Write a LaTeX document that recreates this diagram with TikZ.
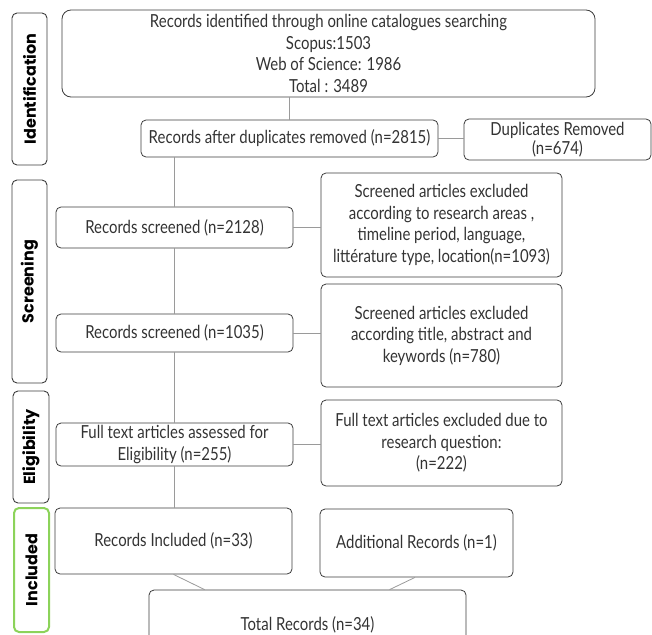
\documentclass[tikz,border=0pt]{standalone}
\usepackage{fontspec}
\setmainfont{Lato}[FakeStretch=0.83]
\newfontfamily\phasefont{Poppins}
\definecolor{boxgray}{HTML}{3C3C3C}
\definecolor{linegray}{HTML}{9A9A9A}
\definecolor{txtgray}{HTML}{333333}
\definecolor{incgreen}{HTML}{8CD35A}
\tikzset{
  box/.style={draw=boxgray, line width=0.8pt, rounded corners=5pt, align=center,
    inner sep=1pt, text=txtgray, font=\fontsize{18}{21.5}\selectfont},
  phase/.style={draw=boxgray, line width=0.9pt, rounded corners=5pt, rotate=90,
    inner sep=0pt, text=black, font=\phasefont\bfseries\fontsize{16}{18}\selectfont},
  conn/.style={draw=linegray, line width=0.8pt}
}
\begin{document}
\begin{tikzpicture}[x=1pt,y=-1pt]
\useasboundingbox (0,0) rectangle (652,634);
\clip (0,0) rectangle (652,634);
% phase labels
\node[phase, minimum width=152pt, minimum height=35pt] (pid) at (29.5,89) {Identification};
\node[phase, minimum width=203pt, minimum height=35pt] (pscr) at (29.5,281.5) {Screening};
\node[phase, minimum width=112pt, minimum height=36pt] (peli) at (31,447) {Eligibility};
\node[phase, draw=incgreen, line width=2pt, minimum width=124pt, minimum height=35pt] (pinc) at (31.5,570) {Included};
% boxes
\node[box, rounded corners=9pt, minimum width=533pt, minimum height=87pt] (top) at (328.5,53.5)
  {Records identified through online catalogues searching\\Scopus:1503\\Web of Science: 1986\\Total : 3489};
\node[box, minimum width=297pt, minimum height=37pt] (dup) at (289.5,138.5) {Records after duplicates removed (n=2815)};
\node[box, minimum width=187pt, minimum height=41pt, font=\fontsize{18}{19.5}\selectfont] (duprem) at (557.5,139.5) {Duplicates Removed\\(n=674)};
\node[box, minimum width=237pt, minimum height=41pt] (s1) at (174.5,227.5) {Records screened (n=2128)};
\node[box, minimum width=241pt, minimum height=104pt] (ex1) at (441.5,225)
  {Screened articles excluded\\according to research areas ,\\timeline period, language,\\littérature type, location(n=1093)};
\node[box, minimum width=237pt, minimum height=38pt] (s2) at (174.5,333) {Records screened (n=1035)};
\node[box, minimum width=241pt, minimum height=103pt] (ex2) at (441.5,335.5)
  {Screened articles excluded\\according title, abstract and\\keywords (n=780)};
\node[box, minimum width=237pt, minimum height=43pt] (ft) at (174.5,444.5)
  {Full text articles assessed for\\Eligibility (n=255)};
\node[box, minimum width=241pt, minimum height=86pt] (ftx) at (441.5,443)
  {Full text articles excluded due to\\research question:\\(n=222)};
\node[box, minimum width=237pt, minimum height=66pt] (inc) at (173.5,541) {Records Included (n=33)};
\node[box, minimum width=193pt, minimum height=68pt] (add) at (416.5,543) {Additional Records (n=1)};
\node[box, minimum width=317pt, minimum height=70pt] (tot) at (307.5,625) {Total Records (n=34)};
% connectors
\draw[conn] (dup.north |- top.south) -- (dup.north);
\draw[conn] (dup.east) -- (dup.east -| duprem.west);
\draw[conn] (s1.north |- dup.south) -- (s1.north);
\draw[conn] (s1.south) -- (s2.north);
\draw[conn] (s2.south) -- (ft.north);
\draw[conn] (ft.south) -- (ft.south |- inc.north);
\draw[conn] (s1.east) -- (s1.east -| ex1.west);
\draw[conn] (s2.east) -- (s2.east -| ex2.west);
\draw[conn] (ft.east) -- (ft.east -| ftx.west);
\draw[conn] (inc.south) -- ([xshift=56pt]tot.north west);
\draw[conn] ([xshift=-1.5pt]add.south) -- ([xshift=241pt]tot.north west);
\end{tikzpicture}
\end{document}
